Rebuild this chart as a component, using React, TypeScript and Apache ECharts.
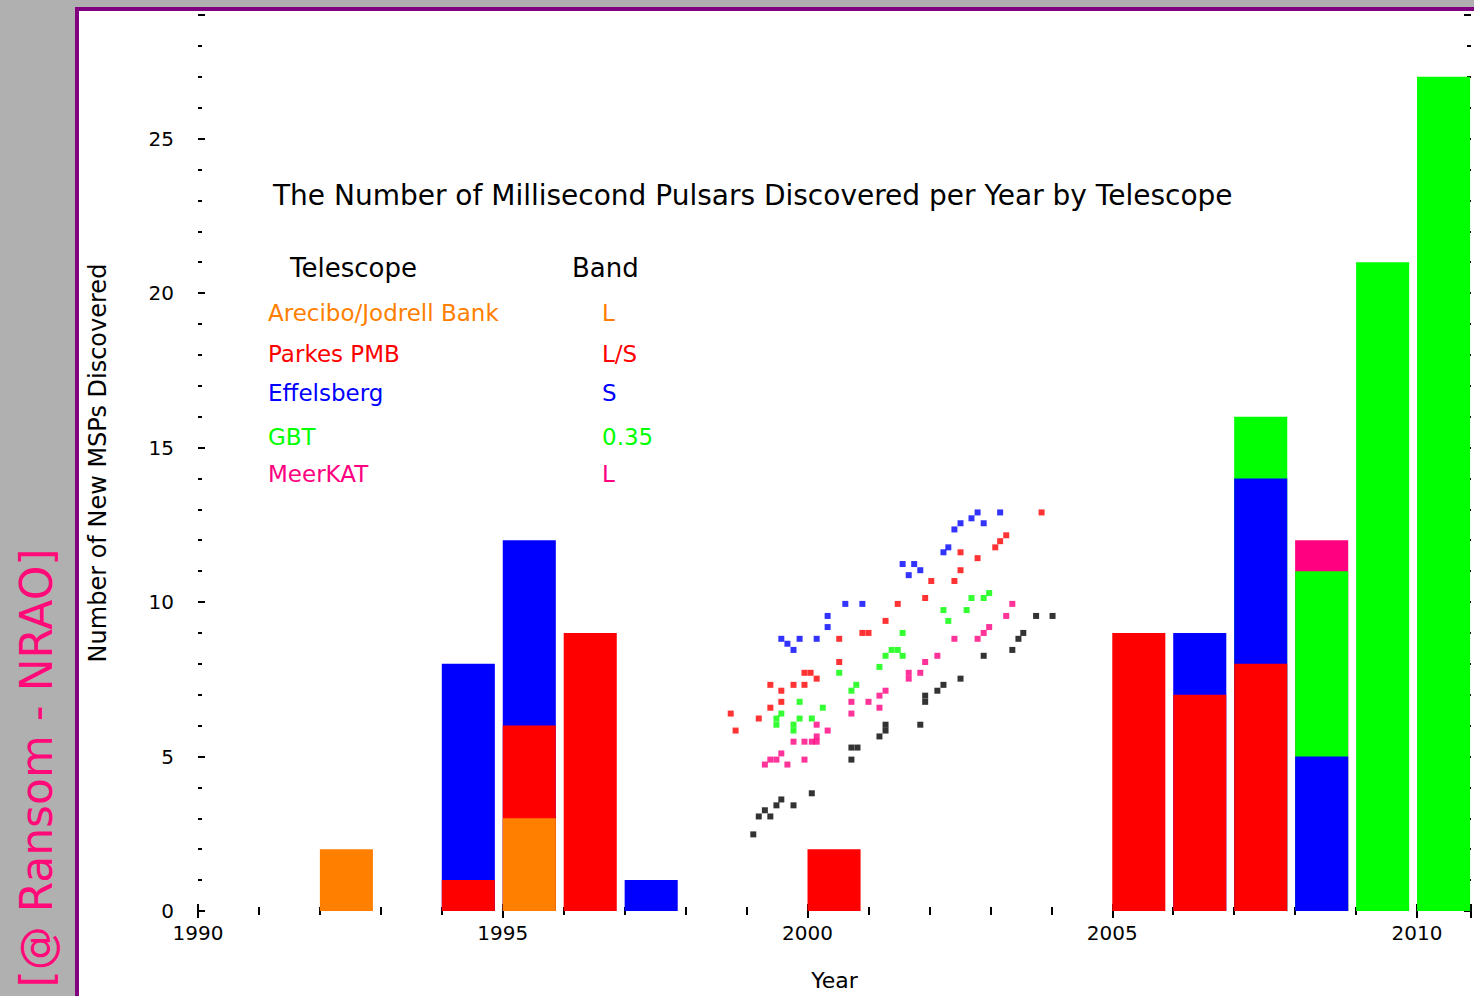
import React, { useEffect, useRef } from "react";
import * as echarts from "echarts";

// ---------- texts ----------
const TITLE = "The Number of Millisecond Pulsars Discovered per Year by Telescope";
const X_NAME = "Year";
const Y_NAME = "Number of New MSPs Discovered";
const WATERMARK = "[@ Ransom - NRAO]";
const legendHeaders = ["Telescope", "Band"];
const legendNames = ["Arecibo/Jodrell Bank", "Parkes PMB", "Effelsberg", "GBT", "MeerKAT"];
const legendBands = ["L", "L/S", "S", "0.35", "L"];

// ---------- axes ----------
const xTickYears = [1990, 1995, 2000, 2005, 2010];
const yTickValues = [0, 5, 10, 15, 20, 25];
const X_MIN = 1990;
const X_MAX = 2010.885;
const Y_MAX = 29;

// ---------- histogram bars (bins start at year), stacked bottom -> top ----------
const barYears = [1992, 1994, 1995, 1996, 1997, 2000, 2005, 2006, 2007, 2008, 2009, 2010];
const orangeCounts = [2, 0, 3, 0, 0, 0, 0, 0, 0, 0, 0, 0];
const redCounts = [0, 1, 3, 9, 0, 2, 9, 7, 8, 0, 0, 0];
const blueCounts = [0, 7, 6, 0, 1, 0, 0, 2, 6, 5, 0, 0];
const greenCounts = [0, 0, 0, 0, 0, 0, 0, 0, 2, 6, 21, 27];
const pinkCounts = [0, 0, 0, 0, 0, 0, 0, 0, 0, 1, 0, 0];

// ---------- scatter points [year, value] ----------
const blueScatter = [
  [2002.79, 12.9], [2003.16, 12.9], [2002.69, 12.71], [2002.51, 12.55], [2002.89, 12.55],
  [2002.41, 12.35], [2002.31, 11.77], [2002.23, 11.61], [2001.56, 11.23], [2001.75, 11.23],
  [2001.85, 11.03], [2001.66, 10.87], [2000.62, 9.94], [2000.9, 9.94], [2000.33, 9.55],
  [2000.33, 9.19], [1999.57, 8.81], [1999.87, 8.81], [2000.15, 8.81], [1999.67, 8.65],
  [1999.77, 8.45],
];
const redScatter = [
  [2003.84, 12.9], [2003.26, 12.16], [2003.16, 11.97], [2003.08, 11.77], [2002.51, 11.61],
  [2002.79, 11.42], [2002.51, 11.03], [2002.03, 10.68], [2002.41, 10.68], [2001.93, 10.13],
  [2001.48, 9.94], [2001.28, 9.39], [2000.9, 9.0], [2001.0, 9.0], [2000.52, 8.81],
  [2000.52, 8.06], [1999.95, 7.71], [2000.05, 7.71], [2000.15, 7.52], [1999.39, 7.32],
  [1999.77, 7.32], [1999.95, 7.32], [1999.57, 7.13], [1999.57, 6.77], [1999.39, 6.58],
  [1998.74, 6.39], [1999.2, 6.23], [1998.82, 5.84],
];
const greenScatter = [
  [2002.98, 10.29], [2002.69, 10.13], [2002.89, 10.13], [2002.23, 9.74], [2002.61, 9.74],
  [2002.31, 9.39], [2001.56, 9.0], [2001.38, 8.45], [2001.48, 8.45], [2001.28, 8.26],
  [2001.56, 8.26], [2001.18, 7.9], [2000.52, 7.71], [2000.8, 7.32], [2000.72, 7.13],
  [1999.87, 6.77], [2000.25, 6.58], [1999.57, 6.39], [1999.49, 6.23], [1999.87, 6.23],
  [2000.07, 6.23], [1999.49, 6.03], [1999.77, 6.03], [1999.77, 5.84],
];
const pinkScatter = [
  [2003.36, 9.94], [2003.26, 9.55], [2002.98, 9.19], [2002.89, 9.0], [2002.41, 8.81],
  [2002.79, 8.81], [2002.13, 8.26], [2001.93, 8.06], [2001.66, 7.71], [2001.85, 7.71],
  [2001.66, 7.52], [2001.28, 7.13], [2001.18, 6.97], [2000.72, 6.77], [2001.0, 6.77],
  [2001.18, 6.58], [2000.72, 6.39], [2000.15, 6.03], [2000.33, 5.84], [2000.15, 5.65],
  [1999.77, 5.48], [1999.95, 5.48], [2000.07, 5.48], [2000.15, 5.48], [1999.57, 5.1],
  [1999.39, 4.9], [1999.49, 4.9], [1999.95, 4.9], [1999.3, 4.74], [1999.67, 4.74],
];
const blackScatter = [
  [2003.75, 9.55], [2004.02, 9.55], [2003.54, 9.0], [2003.46, 8.81], [2003.36, 8.45],
  [2002.89, 8.26], [2002.51, 7.52], [2002.23, 7.32], [2002.13, 7.13], [2001.93, 6.97],
  [2001.93, 6.77], [2001.28, 6.03], [2001.85, 6.03], [2001.28, 5.84], [2001.18, 5.65],
  [2000.72, 5.29], [2000.82, 5.29], [2000.72, 4.9], [2000.07, 3.81], [1999.57, 3.61],
  [1999.49, 3.42], [1999.77, 3.42], [1999.3, 3.26], [1999.2, 3.06], [1999.39, 3.06],
  [1999.11, 2.48],
];

// ---------- styles ----------
const ORANGE = "#ff8000";
const RED = "#ff0000";
const BLUE = "#0000ff";
const GREEN = "#00ff00";
const PINK = "#ff0080";
const legendColors = [ORANGE, RED, BLUE, GREEN, PINK];
const FONT = "DejaVu Sans";
const GRID_LEFT = 198;
const GRID_TOP = 15;
const GRID_W = 1274;
const GRID_H = 899;
const BAR_FRAC = 0.87;

export default function App() {
  const ref = useRef<HTMLDivElement>(null);

  useEffect(() => {
    document.body.style.margin = "0";
    const chart = echarts.init(ref.current!, null, { renderer: "svg" });
    const pxPerYear = GRID_W / (X_MAX - X_MIN);
    const barWidth = BAR_FRAC * pxPerYear;

    const tickStyle = { color: "#000", width: 2 };
    const xAxisBase = {
      type: "value" as const,
      min: X_MIN,
      max: X_MAX,
      interval: 5,
      axisLine: { show: false },
      splitLine: { show: false },
      axisTick: { show: true, inside: true, length: 7, lineStyle: tickStyle },
      minorTick: { show: true, splitNumber: 5, length: 4, lineStyle: tickStyle },
    };
    const yAxisBase = {
      type: "value" as const,
      min: 0,
      max: Y_MAX,
      interval: 5,
      axisLine: { show: false },
      splitLine: { show: false },
      axisTick: { show: true, inside: true, length: 7, lineStyle: tickStyle },
      minorTick: { show: true, splitNumber: 5, length: 4, lineStyle: tickStyle },
    };

    // stacked histogram drawn as overlapping cumulative bars (top layer drawn first)
    const layers = [
      { name: legendNames[0], vals: orangeCounts, color: ORANGE },
      { name: legendNames[1], vals: redCounts, color: RED },
      { name: legendNames[2], vals: blueCounts, color: BLUE },
      { name: legendNames[3], vals: greenCounts, color: GREEN },
      { name: legendNames[4], vals: pinkCounts, color: PINK },
    ];
    const running = barYears.map(() => 0);
    const cumLayers = layers.map((l) => {
      const cum = l.vals.map((v, i) => (running[i] += v));
      return {
        ...l,
        data: barYears.map((yr, i) => [yr + BAR_FRAC / 2, l.vals[i] > 0 ? cum[i] : "-"]),
      };
    });
    const barSeries = cumLayers
      .slice()
      .reverse()
      .map((l) => ({
        type: "bar",
        name: l.name,
        barWidth,
        barGap: "-100%",
        itemStyle: { color: l.color },
        data: l.data,
      }));

    const scatterSeries = [
      { data: blueScatter, color: BLUE },
      { data: redScatter, color: RED },
      { data: greenScatter, color: GREEN },
      { data: pinkScatter, color: PINK },
      { data: blackScatter, color: "#000" },
    ].map((s, i) => ({
      type: "scatter",
      name: "trend" + i,
      symbol: "rect",
      symbolSize: 6,
      itemStyle: { color: s.color },
      data: s.data,
      z: 3,
    }));

    const legendRowsY = [313, 354, 393, 437, 474];
    const graphics: any[] = [
      {
        type: "text",
        x: 36,
        y: 768,
        rotation: Math.PI / 2,
        style: {
          text: WATERMARK,
          fill: "#ff0a78",
          fontSize: 44,
          fontFamily: FONT,
          align: "center",
          verticalAlign: "middle",
          textAlign: "center",
          textVerticalAlign: "middle",
        },
      },
      {
        type: "text",
        x: 290,
        y: 268,
        style: { text: legendHeaders[0], fill: "#000", fontSize: 26, fontFamily: FONT, verticalAlign: "middle", textVerticalAlign: "middle" },
      },
      {
        type: "text",
        x: 572,
        y: 268,
        style: { text: legendHeaders[1], fill: "#000", fontSize: 26, fontFamily: FONT, verticalAlign: "middle", textVerticalAlign: "middle" },
      },
    ];
    legendNames.forEach((n, i) => {
      graphics.push({
        type: "text",
        x: 268,
        y: legendRowsY[i],
        style: { text: n, fill: legendColors[i], fontSize: 23, fontFamily: FONT, verticalAlign: "middle", textVerticalAlign: "middle" },
      });
      graphics.push({
        type: "text",
        x: 602,
        y: legendRowsY[i],
        style: { text: legendBands[i], fill: legendColors[i], fontSize: 23, fontFamily: FONT, verticalAlign: "middle", textVerticalAlign: "middle" },
      });
    });

    chart.setOption({
      animation: false,
      backgroundColor: "transparent",
      textStyle: { fontFamily: FONT },
      title: {
        text: TITLE,
        left: 268,
        top: 176,
        textStyle: { fontSize: 28, fontWeight: "normal", color: "#000", fontFamily: FONT },
      },
      grid: { left: GRID_LEFT, top: GRID_TOP, width: GRID_W, height: GRID_H },
      xAxis: [
        {
          ...xAxisBase,
          position: "bottom",
          name: X_NAME,
          nameLocation: "middle",
          nameGap: 58,
          nameTextStyle: { fontSize: 22, color: "#000", fontFamily: FONT },
          axisLabel: {
            fontSize: 20,
            color: "#000",
            margin: 12,
            fontFamily: FONT,
            formatter: (v: number) => (xTickYears.includes(v) ? String(v) : ""),
          },
        },
        { ...xAxisBase, position: "top", axisLabel: { show: false } },
      ],
      yAxis: [
        {
          ...yAxisBase,
          position: "left",
          name: Y_NAME,
          nameLocation: "middle",
          nameGap: 88,
          nameTextStyle: { fontSize: 24, color: "#000", fontFamily: FONT },
          axisLabel: {
            fontSize: 20,
            color: "#000",
            margin: 24,
            fontFamily: FONT,
            formatter: (v: number) => (yTickValues.includes(v) ? String(v) : ""),
          },
        },
        { ...yAxisBase, position: "right", axisLabel: { show: false } },
      ],
      graphic: graphics,
      series: [...barSeries, ...scatterSeries],
    });

    return () => chart.dispose();
  }, []);

  return (
    <div style={{ position: "fixed", left: 0, top: 0, width: 1474, height: 996, background: "#b0b0b0", overflow: "hidden" }}>
      <div
        style={{
          position: "absolute",
          left: 75,
          top: 7,
          width: 1500,
          height: 1100,
          background: "#ffffff",
          border: "4px solid #800080",
          boxSizing: "border-box",
        }}
      />
      <div ref={ref} style={{ position: "absolute", left: 0, top: 0, width: 1474, height: 996 }} />
    </div>
  );
}
